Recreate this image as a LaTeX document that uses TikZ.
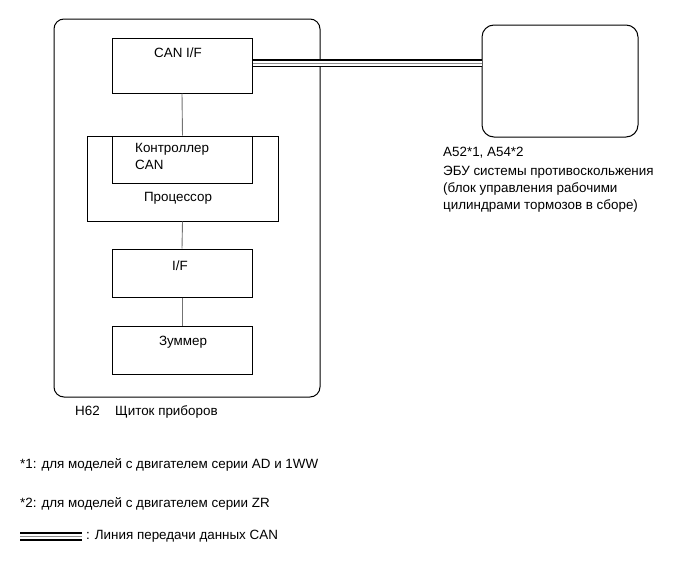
\documentclass[tikz,border=0pt]{standalone}
\usepackage{fontspec}
\setmainfont{Liberation Sans}
\begin{document}
\begin{tikzpicture}[x=1pt,y=-1pt,
  box/.style={draw=black, line width=1pt, inner sep=0pt},
  rbox/.style={box, rounded corners=10pt},
  lbl/.style={inner sep=0pt, font=\fontsize{13.4}{17}\selectfont},
  link/.style={draw=black!55, line width=0.9pt}]
\useasboundingbox (0,0) rectangle (690,562);
\fill[white] (0,0) rectangle (690,562);
% outer cluster
\node[rbox, minimum width=266pt, minimum height=378pt] (cluster) at (187,208) {};
\node[box, minimum width=140pt, minimum height=55pt] (canif) at (182,65.5) {};
\node[box, minimum width=191pt, minimum height=85pt] (proc) at (182.5,178.5) {};
\node[box, minimum width=140pt, minimum height=47pt] (ctrl) at (182,159.5) {};
\node[box, minimum width=140pt, minimum height=48pt] (iface) at (182,273) {};
\node[box, minimum width=140pt, minimum height=48pt] (buzz) at (182,350) {};
\node[rbox, rounded corners=12pt, minimum width=156pt, minimum height=112pt] (ecu) at (560,81) {};
% texts in boxes
\node[lbl, anchor=base] (tcanif) at (178,57) {CAN I/F};
\node[lbl, anchor=base west] (tctrl1) at (135,152) {Контроллер};
\node[lbl, anchor=base west] (tctrl2) at (135,169) {CAN};
\node[lbl, anchor=base] (tproc) at (178,201) {Процессор};
\node[lbl, anchor=base] (tif) at (180,270) {I/F};
\node[lbl, anchor=base] (tbuzz) at (183,345) {Зуммер};
\node[lbl, anchor=base west] (th62) at (75,415) {H62};
\node[lbl, anchor=base west] (tcl) at (115,415) {Щиток приборов};
\node[lbl, anchor=base west] (tecu1) at (443,156) {A52*1, A54*2};
\node[lbl, anchor=base west] (tecu2) at (443,175) {ЭБУ системы противоскольжения};
\node[lbl, anchor=base west] (tecu3) at (443,192) {(блок управления рабочими};
\node[lbl, anchor=base west] (tecu4) at (443,209) {цилиндрами тормозов в сборе)};
% connectors
\draw[link] (canif.south) -- (proc.north);
\draw[link] (proc.south) -- (iface.north);
\draw[link] (iface.south) -- (buzz.north);
% CAN line
\coordinate (cs) at ([yshift=2.5pt]canif.east);
\coordinate (ce) at (cs -| ecu.west);
\draw[black, line width=8pt] (cs) -- (ce);
\draw[white, line width=5pt] (cs) -- (ce);
\draw[black!45, line width=0.9pt] (cs) -- (ce);
% footnotes
\node[lbl, anchor=base west] (fn1) at (20,468) {*1: для моделей с двигателем серии AD и 1WW};
\node[lbl, anchor=base west] (fn2) at (20,507) {*2: для моделей с двигателем серии ZR};
\coordinate (lg1) at (20,536.5);
\coordinate (lg2) at (82,536.5);
\draw[black, line width=9.6pt] (lg1) -- (lg2);
\draw[white, line width=5.6pt] (lg1) -- (lg2);
\draw[black!45, line width=1pt] (lg1) -- (lg2);
\node[lbl, anchor=base west] (lgt) at (86,539) {: Линия передачи данных CAN};
\end{tikzpicture}
\end{document}
